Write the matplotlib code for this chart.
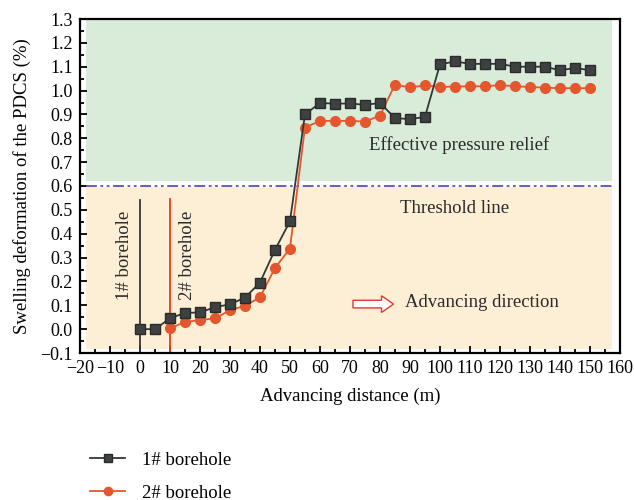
import matplotlib
matplotlib.use("Agg")
import matplotlib.pyplot as plt
from matplotlib.ticker import MultipleLocator

plt.rcParams['font.family'] = ['Liberation Serif', 'DejaVu Serif']
plt.rcParams['mathtext.fontset'] = 'stix'

# ── Data ──────────────────────────────────────────────────────────────────
dist_1 = [0, 5, 10, 15, 20, 25, 30, 35, 40, 45, 50, 55, 60, 65, 70, 75, 80,
          85, 90, 95, 100, 105, 110, 115, 120, 125, 130, 135, 140, 145, 150]
swell_1 = [0.0, 0.0, 0.045, 0.068, 0.07, 0.092, 0.104, 0.132, 0.195, 0.332, 0.452,
           0.90, 0.948, 0.945, 0.946, 0.94, 0.948, 0.885, 0.88, 0.89,
           1.11, 1.122, 1.112, 1.112, 1.112, 1.10, 1.10, 1.10, 1.085, 1.095, 1.085]

dist_2 = [10, 15, 20, 25, 30, 35, 40, 45, 50, 55, 60, 65, 70, 75, 80,
          85, 90, 95, 100, 105, 110, 115, 120, 125, 130, 135, 140, 145, 150]
swell_2 = [0.003, 0.03, 0.038, 0.045, 0.079, 0.098, 0.133, 0.256, 0.338,
           0.845, 0.873, 0.873, 0.873, 0.87, 0.895, 1.025, 1.013, 1.022,
           1.015, 1.017, 1.018, 1.018, 1.023, 1.018, 1.015, 1.012, 1.01, 1.01, 1.01]

threshold = 0.6
borehole_pos = [0, 10]
labels = ["1# borehole", "2# borehole"]

DARK = "#333835"
RED = "#e4572e"

# ── Figure ───────────────────────────────────────────────────────────────
fig = plt.figure(figsize=(6.34, 5.0), dpi=100)
ax = fig.add_axes([0.126, 0.294, 0.852, 0.668])

ax.set_xlim(-20, 160)
ax.set_ylim(-0.1, 1.3)

# shaded zones
ax.axhspan(0.62, 1.3, xmin=0.011, xmax=0.986, color="#d9ecda", lw=0, zorder=0)
ax.axhspan(-0.085, 0.595, xmin=0.011, xmax=0.986, color="#fdefd5", lw=0, zorder=0)

# threshold line
ax.plot([-18, 157.5], [threshold, threshold], color="#5b4fc4", lw=1.3,
        ls=(0, (6, 2, 1.5, 2, 1.5, 2)), zorder=2)

# borehole position lines
ax.plot([borehole_pos[0]] * 2, [-0.1, 0.54], color=DARK, lw=1.3, zorder=2)
ax.plot([borehole_pos[1]] * 2, [-0.1, 0.545], color="#ee3a1e", lw=1.3, zorder=2)

ax.plot(dist_1, swell_1, color=DARK, marker="s", ms=6.5, mec="#2a2a2a",
        mfc="#3d4240", lw=1.3, label=labels[0], zorder=4)
ax.plot(dist_2, swell_2, color=RED, marker="o", ms=7, mec=RED, mfc=RED,
        lw=1.3, label=labels[1], zorder=3)

# annotations
txt_kw = dict(fontsize=13.5, color="#2a2a2a")
ax.text(-5, 0.31, labels[0], rotation=90, ha="center", va="center", **txt_kw)
ax.text(16, 0.31, labels[1], rotation=90, ha="center", va="center", **txt_kw)
ax.text(106.5, 0.77, "Effective pressure relief", ha="center", va="center", **txt_kw)
ax.text(105, 0.505, "Threshold line", ha="center", va="center", **txt_kw)
ax.text(88.5, 0.11, "Advancing direction", ha="left", va="center", **txt_kw)
ax.arrow(71, 0.105, 9.5, 0, width=0.032, head_width=0.07, head_length=4,
         fc="white", ec="#e8362a", lw=1.0, length_includes_head=False, zorder=5)

# axes styling
ax.xaxis.set_major_locator(MultipleLocator(10))
ax.xaxis.set_minor_locator(MultipleLocator(5))
ax.yaxis.set_major_locator(MultipleLocator(0.1))
ax.yaxis.set_minor_locator(MultipleLocator(0.05))
ax.yaxis.set_major_formatter(plt.FuncFormatter(lambda v, p: f"{v:.1f}".replace("-", "\u2212")))
ax.tick_params(which="both", direction="in", labelsize=13, width=1.3, pad=5)
ax.tick_params(which="major", length=5)
ax.tick_params(which="minor", length=3)
for s in ax.spines.values():
    s.set_linewidth(1.6)

ax.set_xlabel("Advancing distance (m)", fontsize=13.5, labelpad=8)
ax.set_ylabel("Swelling deformation of the PDCS (%)", fontsize=13.5, labelpad=7)

fig.legend(loc="upper left", bbox_to_anchor=(0.115, 0.13), frameon=False,
           fontsize=13.5, handlelength=1.9, labelspacing=0.82, handletextpad=0.9,
           markerscale=0.85)

fig.savefig("out.png", dpi=100)
